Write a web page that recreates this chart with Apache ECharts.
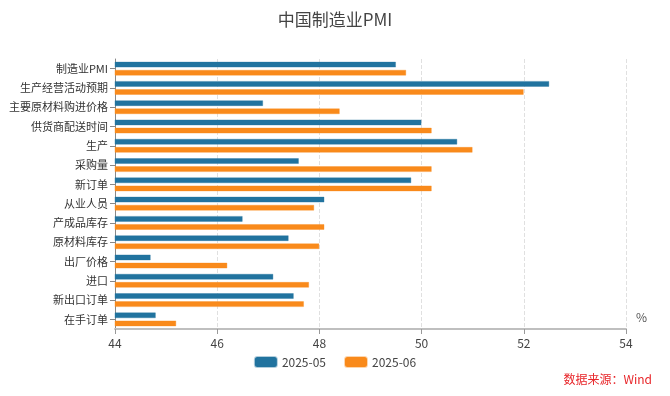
<!DOCTYPE html>
<html>
<head>
<meta charset="utf-8">
<script src="https://cdn.jsdelivr.net/npm/echarts@6/dist/echarts.min.js"></script>
<style>
  html, body { margin: 0; padding: 0; background: #fff; }
  #chart { width: 670px; height: 396px; }
</style>
</head>
<body>
<div id="chart"></div>
<script>
const categories = ['制造业PMI', '生产经营活动预期', '主要原材料购进价格', '供货商配送时间', '生产', '采购量', '新订单',
  '从业人员', '产成品库存', '原材料库存', '出厂价格', '进口', '新出口订单', '在手订单']
const may = [49.5, 52.5, 46.9, 50.0, 50.7, 47.6, 49.8, 48.1, 46.5, 47.4, 44.7, 47.1, 47.5, 44.8]
const june = [49.7, 52.0, 48.4, 50.2, 51.0, 50.2, 50.2, 47.9, 48.1, 48.0, 46.2, 47.8, 47.7, 45.2]
const seriesNames = ['2025-05', '2025-06']

const font = '"Noto Sans CJK SC", "Noto Sans", sans-serif'
const chart = echarts.init(document.getElementById('chart'))
chart.setOption({
  animation: false,
  textStyle: { fontFamily: font },
  color: ['#21739f', '#f98a1b'],
  title: {
    text: '中国制造业PMI',
    left: 'center',
    top: 6,
    textStyle: { fontSize: 17, fontWeight: 'normal', color: '#444', fontFamily: font }
  },
  graphic: [{
    type: 'text',
    right: 18,
    top: 373,
    style: { text: '数据来源：Wind', fill: '#e8262a', font: '12px ' + font }
  }],
  legend: {
    data: seriesNames,
    bottom: 23,
    left: 'center',
    itemWidth: 22,
    itemHeight: 10,
    itemGap: 18,
    icon: 'roundRect',
    textStyle: { fontSize: 12, color: '#444' }
  },
  grid: { left: 115, right: 44, top: 59, bottom: 67 },
  xAxis: {
    type: 'value',
    min: 44,
    max: 54,
    interval: 2,
    name: '%',
    nameGap: 10,
    nameTextStyle: { color: '#555', fontSize: 12, verticalAlign: 'bottom', padding: [0, 0, 6, 0] },
    axisLine: { show: true, lineStyle: { color: '#bfbfbf', width: 2 } },
    axisTick: { show: true, lineStyle: { color: '#999' } },
    axisLabel: { color: '#444', fontSize: 12, margin: 8 },
    splitLine: { show: true, lineStyle: { color: '#e0e0e0', type: 'dashed' } }
  },
  yAxis: {
    type: 'category',
    data: categories,
    inverse: true,
    axisLine: { show: true, lineStyle: { color: '#888' } },
    axisTick: { show: true, alignWithLabel: true, lineStyle: { color: '#888' } },
    axisLabel: { color: '#333', fontSize: 11, margin: 7 }
  },
  series: [
    {
      name: seriesNames[0],
      type: 'bar',
      data: may,
      barWidth: 6,
      barGap: '35%',
      itemStyle: { borderColor: 'rgba(33,115,159,0.35)', borderWidth: 1 }
    },
    {
      name: seriesNames[1],
      type: 'bar',
      data: june,
      barWidth: 6,
      itemStyle: { borderColor: 'rgba(249,138,27,0.35)', borderWidth: 1 }
    }
  ]
})
</script>
</body>
</html>
